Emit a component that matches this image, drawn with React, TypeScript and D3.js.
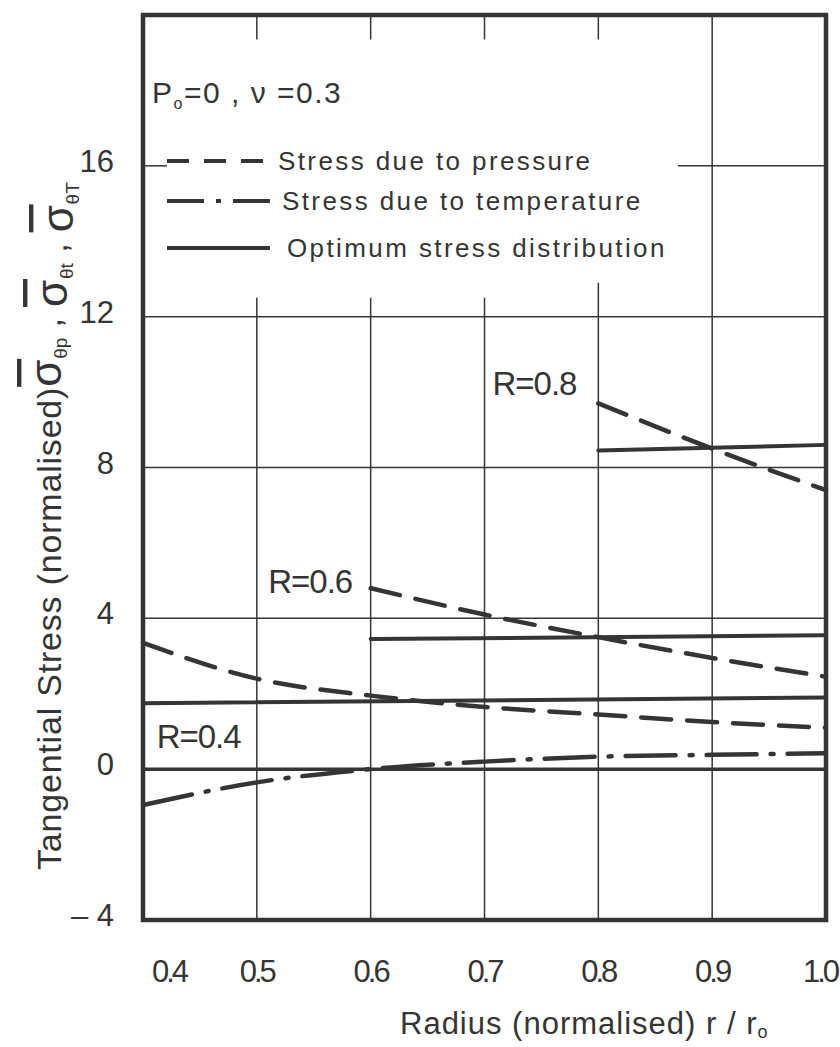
import React, { useRef, useEffect } from "react";
import * as d3 from "d3";

// radius values (r / r0) where curves were read
const radius = [0.4, 0.5, 0.6, 0.7, 0.8, 0.9, 1.0];
const radiusR06 = [0.6, 0.7, 0.8, 0.9, 1.0];
const radiusR08 = [0.8, 0.9, 1.0];

// stress due to pressure (dashed)
const pressureR04 = [3.35, 2.4, 1.95, 1.65, 1.45, 1.25, 1.1];
const pressureR06 = [4.8, 4.1, 3.5, 2.95, 2.45];
const pressureR08 = [9.7, 8.5, 7.4];

// stress due to temperature (dash-dot)
const temperatureR04 = [-0.95, -0.35, 0.0, 0.2, 0.33, 0.38, 0.42];

// optimum stress distribution (solid), start and end points
const optimumR04 = [
  [0.4, 1.75],
  [1.0, 1.9],
];
const optimumR06 = [
  [0.6, 3.45],
  [1.0, 3.55],
];
const optimumR08 = [
  [0.8, 8.45],
  [1.0, 8.6],
];

const xTicks = [0.4, 0.5, 0.6, 0.7, 0.8, 0.9, 1.0];
const xTickLabels = ["0.4", "0.5", "0.6", "0.7", "0.8", "0.9", "1.0"];
const yTicks = [-4, 0, 4, 8, 12, 16];
const yTickLabels = ["\u2013 4", "0", "4", "8", "12", "16"];
const curveLabels = ["R=0.4", "R=0.6", "R=0.8"];
const legendLabels = [
  "Stress due to pressure",
  "Stress due to temperature",
  "Optimum stress distribution",
];

const width = 840;
const height = 1047;
const ink = "#353535";
const font = "'Liberation Sans', 'DejaVu Sans', sans-serif";

const StressChart: React.FC = () => {
  const svgRef = useRef<SVGSVGElement>(null);

  useEffect(() => {
    const svg = d3.select(svgRef.current);
    svg.selectAll("*").remove();

    const x = d3.scaleLinear().domain([0.4, 1.0]).range([143, 826]);
    const y = d3.scaleLinear().domain([-4, 20]).range([920, 15]);

    const g = svg.append("g");

    // grid
    const grid = g.append("g").attr("stroke", ink).attr("stroke-width", 1.5);
    // vertical lines: 0.5-0.8 interrupted by the legend, 0.9 full
    const vTop = [12.5, 12.5, 12.5, 12.9];
    [0.5, 0.6, 0.7, 0.8].forEach((v, i) => {
      grid.append("line").attr("x1", x(v)).attr("x2", x(v)).attr("y1", y(-4)).attr("y2", y(vTop[i]));
      grid.append("line").attr("x1", x(v)).attr("x2", x(v)).attr("y1", y(20)).attr("y2", y(19.35));
    });
    grid.append("line").attr("x1", x(0.9)).attr("x2", x(0.9)).attr("y1", y(-4)).attr("y2", y(20));

    [4, 8, 12].forEach((v) => {
      grid.append("line").attr("x1", x(0.4)).attr("x2", x(1.0)).attr("y1", y(v)).attr("y2", y(v));
    });
    // 16 line hidden behind the legend
    grid.append("line").attr("x1", x(0.4)).attr("x2", x(0.421)).attr("y1", y(16)).attr("y2", y(16));
    grid.append("line").attr("x1", x(0.87)).attr("x2", x(1.0)).attr("y1", y(16)).attr("y2", y(16));

    // bold zero line
    g.append("line")
      .attr("x1", x(0.4))
      .attr("x2", x(1.0))
      .attr("y1", y(0))
      .attr("y2", y(0))
      .attr("stroke", ink)
      .attr("stroke-width", 3.5);

    // frame
    g.append("rect")
      .attr("x", x(0.4))
      .attr("y", y(20))
      .attr("width", x(1.0) - x(0.4))
      .attr("height", y(-4) - y(20))
      .attr("fill", "none")
      .attr("stroke", ink)
      .attr("stroke-width", 4.5);

    // curves
    const line = d3
      .line<number[]>()
      .x((d) => x(d[0]))
      .y((d) => y(d[1]))
      .curve(d3.curveMonotoneX);

    const curves = g
      .append("g")
      .attr("fill", "none")
      .attr("stroke", ink)
      .attr("stroke-width", 4.5)
      .attr("stroke-linecap", "round");

    const dashed = "30 16";
    curves.append("path").attr("d", line(radius.map((r, i) => [r, pressureR04[i]]))).attr("stroke-dasharray", dashed);
    curves.append("path").attr("d", line(radiusR06.map((r, i) => [r, pressureR06[i]]))).attr("stroke-dasharray", dashed);
    curves.append("path").attr("d", line(radiusR08.map((r, i) => [r, pressureR08[i]]))).attr("stroke-dasharray", dashed);
    curves
      .append("path")
      .attr("d", line(radius.map((r, i) => [r, temperatureR04[i]])))
      .attr("stroke-dasharray", "50 14 3 14");
    [optimumR04, optimumR06, optimumR08].forEach((pts) => {
      curves.append("path").attr("d", line(pts)).attr("stroke-width", 4);
    });

    // curve labels
    const labelPos = [
      [0.412, 0.56],
      [0.51, 4.67],
      [0.707, 9.92],
    ];
    curveLabels.forEach((t, i) => {
      g.append("text")
        .attr("x", x(labelPos[i][0]))
        .attr("y", y(labelPos[i][1]))
        .attr("font-size", 33)
        .attr("font-family", font)
        .attr("letter-spacing", -1)
        .attr("fill", ink)
        .text(t);
    });

    // tick labels
    const tickText = g.append("g").attr("font-family", font).attr("fill", ink).attr("font-size", 31);
    xTicks.forEach((v, i) => {
      const shift = i === 0 ? 26 : i === xTicks.length - 1 ? -6 : 0;
      tickText
        .append("text")
        .attr("x", x(v) + shift)
        .attr("y", 982)
        .attr("text-anchor", "middle")
        .attr("letter-spacing", -3)
        .text(xTickLabels[i]);
    });
    yTicks.forEach((v, i) => {
      tickText
        .append("text")
        .attr("x", 114)
        .attr("y", y(v) + 6)
        .attr("text-anchor", "end")
        .text(yTickLabels[i]);
    });

    // legend
    const legend = g.append("g").attr("font-family", font).attr("fill", ink);
    const p = legend.append("text").attr("x", 152).attr("y", 103).attr("font-size", 30).attr("letter-spacing", 1.5);
    p.append("tspan").text("P");
    p.append("tspan").attr("font-size", 16).attr("dy", 6).text("o");
    p.append("tspan").attr("dy", -6).text("=0 , \u03bd =0.3");

    const legendY = [161, 201, 248];
    const legendDash = ["22 15", "37 12 5 12 40", null];
    const legendTextX = [278, 282, 287];
    legendLabels.forEach((t, i) => {
      legend
        .append("line")
        .attr("x1", 167)
        .attr("x2", i === 0 ? 263 : 270)
        .attr("y1", legendY[i])
        .attr("y2", legendY[i])
        .attr("stroke", ink)
        .attr("stroke-width", 4)
        .attr("stroke-dasharray", legendDash[i]);
      legend
        .append("text")
        .attr("x", legendTextX[i])
        .attr("y", legendY[i] + 9)
        .attr("font-size", 26)
        .attr("letter-spacing", 2.4)
        .text(t);
    });

    // axis titles
    const xt = g
      .append("text")
      .attr("x", 400)
      .attr("y", 1034)
      .attr("font-family", font)
      .attr("font-size", 31)
      .attr("letter-spacing", 1)
      .attr("fill", ink);
    xt.append("tspan").text("Radius (normalised)  r / r");
    xt.append("tspan").attr("font-size", 18).attr("dy", 4).text("o");

    const yt = g
      .append("text")
      .attr("transform", "translate(61,870) rotate(-90)")
      .attr("font-family", font)
      .attr("font-size", 34)
      .attr("letter-spacing", 0.8)
      .attr("fill", ink);
    yt.append("tspan").text("Tangential Stress (normalised)");
    const subs = ["\u03b8p", "\u03b8t", "\u03b8T"];
    subs.forEach((s, i) => {
      if (i > 0) yt.append("tspan").attr("dy", -6).attr("font-size", 34).text(" , ");
      yt.append("tspan")
        .attr("text-decoration", "overline")
        .attr("font-size", 44)
        .attr("dy", i === 0 ? 0 : 6)
        .text("\u03c3");
      yt.append("tspan").attr("font-size", 19).attr("dy", 6).attr("letter-spacing", 0).text(s);
    });
  }, []);

  return (
    <svg
      ref={svgRef}
      width={width}
      height={height}
      style={{ position: "absolute", left: 0, top: 0, background: "#fff" }}
    />
  );
};

export default function App() {
  return <StressChart />;
}
